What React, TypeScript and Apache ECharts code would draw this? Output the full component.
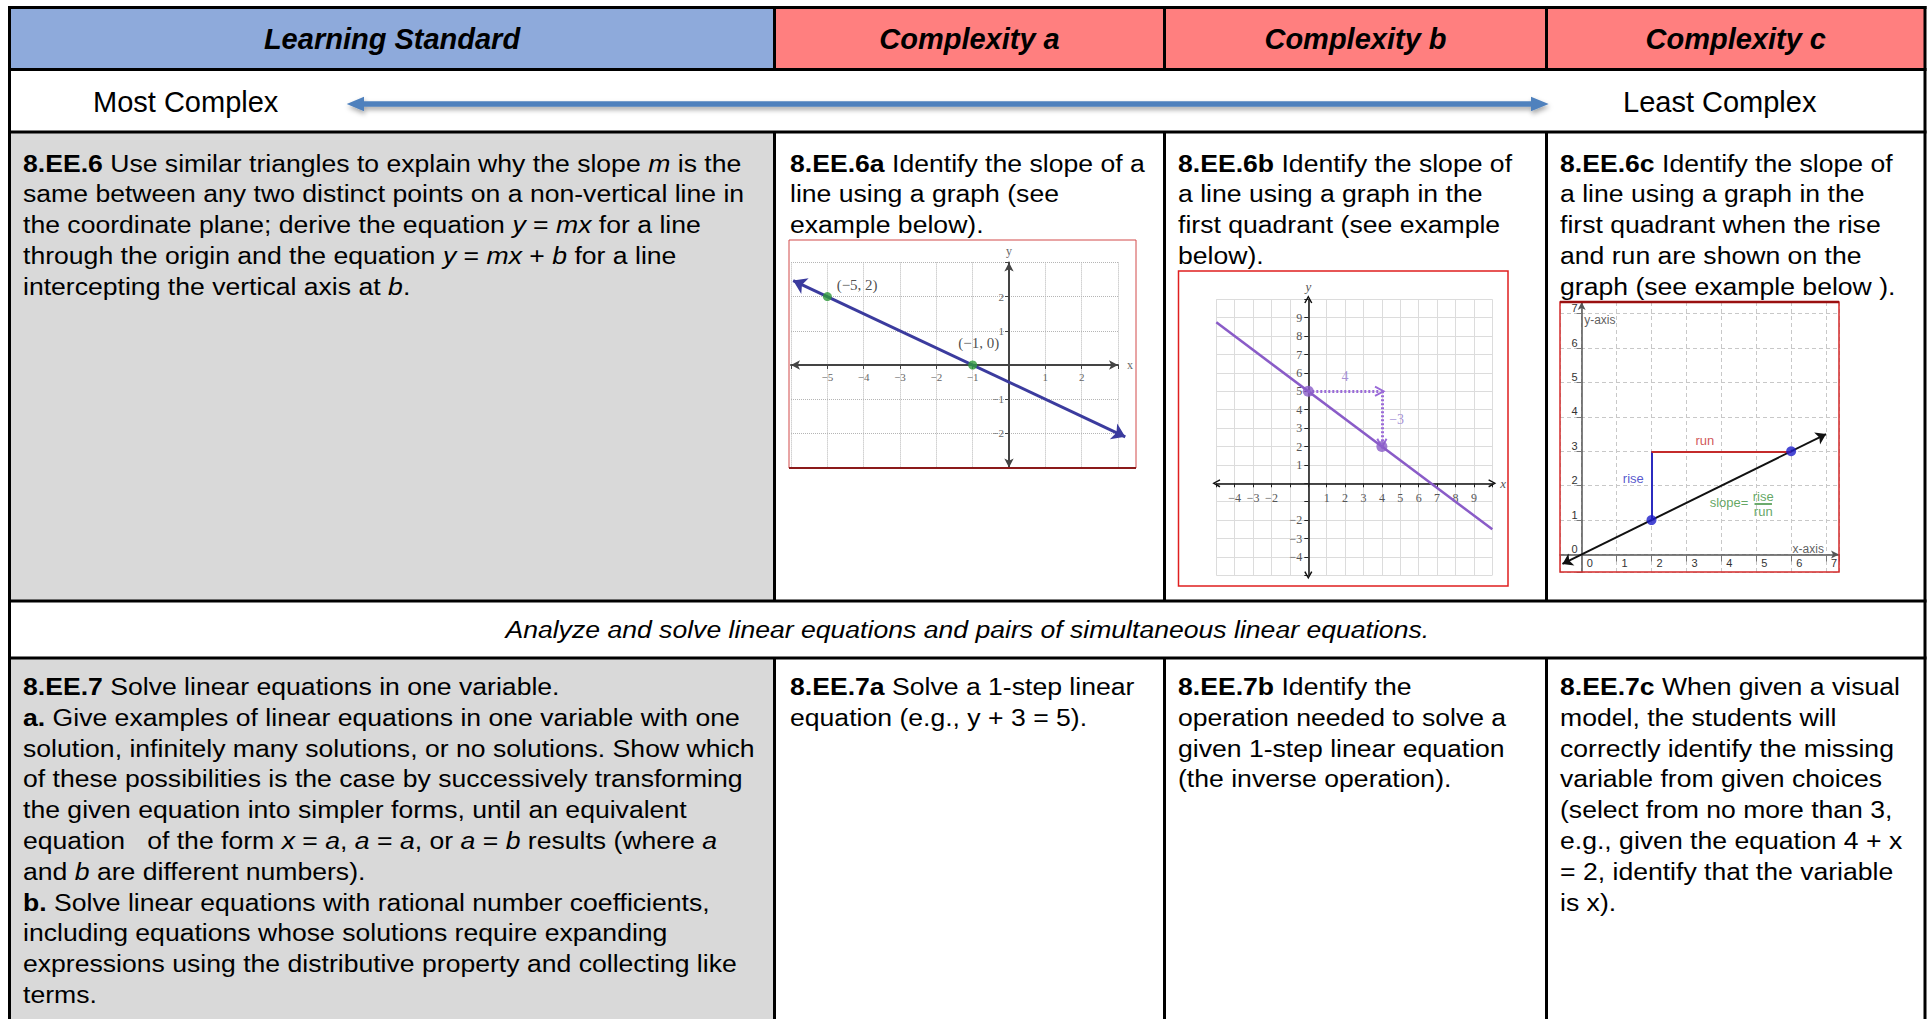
import React, { useEffect, useRef } from "react";
import * as echarts from "echarts";

// ---------------- table content ----------------
const headerLabels = ["Learning Standard", "Complexity a", "Complexity b", "Complexity c"];
const scaleEndLabels = ["Most Complex", "Least Complex"];
const clusterHeading = "Analyze and solve linear equations and pairs of simultaneous linear equations.";

const standard6Lines = [
  "{b|8.EE.6} Use similar triangles to explain why the slope {i|m} is the",
  "same between any two distinct points on a non-vertical line in",
  "the coordinate plane; derive the equation {i|y} = {i|mx} for a line",
  "through the origin and the equation {i|y} = {i|mx} + {i|b} for a line",
  "intercepting the vertical axis at {i|b}.",
];
const complexity6aLines = ["{b|8.EE.6a} Identify the slope of a", "line using a graph (see", "example below)."];
const complexity6bLines = [
  "{b|8.EE.6b} Identify the slope of",
  "a line using a graph in the",
  "first quadrant (see example",
  "below).",
];
const complexity6cLines = [
  "{b|8.EE.6c} Identify the slope of",
  "a line using a graph in the",
  "first quadrant when the rise",
  "and run are shown on the",
  "graph (see example below ).",
];
const standard7Lines = [
  "{b|8.EE.7} Solve linear equations in one variable.",
  "{b|a.} Give examples of linear equations in one variable with one",
  "solution, infinitely many solutions, or no solutions. Show which",
  "of these possibilities is the case by successively transforming",
  "the given equation into simpler forms, until an equivalent",
  "equation   of the form {i|x} = {i|a}, {i|a} = {i|a}, or {i|a} = {i|b} results (where {i|a}",
  "and {i|b} are different numbers).",
  "{b|b.} Solve linear equations with rational number coefficients,",
  "including equations whose solutions require expanding",
  "expressions using the distributive property and collecting like",
  "terms.",
];
const complexity7aLines = ["{b|8.EE.7a} Solve a 1-step linear", "equation (e.g., y + 3 = 5)."];
const complexity7bLines = [
  "{b|8.EE.7b} Identify the",
  "operation needed to solve a",
  "given 1-step linear equation",
  "(the inverse operation).",
];
const complexity7cLines = [
  "{b|8.EE.7c} When given a visual",
  "model, the students will",
  "correctly identify the missing",
  "variable from given choices",
  "(select from no more than 3,",
  "e.g., given the equation 4 + x",
  "= 2, identify that the variable",
  "is x).",
];

// ---------------- graph a data ----------------
const aXRange = [-6, 3];
const aYRange = [-3, 3];
const aLineCoords = [[-5.94, 2.47], [3.2, -2.1]];
const aPoints = [[-5, 2], [-1, 0]];
const aPointNames = ["(\u22125, 2)", "(\u22121, 0)"];
const aNameAnchors = [[-4.18, 2.34], [-0.83, 0.63]];
const aXTickLabels = [-5, -4, -3, -2, -1, 1, 2];
const aYTickLabels = [-2, -1, 1, 2];

// ---------------- graph b data ----------------
const bRange = [-5, 10];
const bLineCoords = [[-5, 8.75], [10, -2.5]];
const bPoints = [[0, 5], [4, 2]];
const bRunArrow = [[0, 5], [3.9, 5]];
const bRiseArrow = [[4, 5], [4, 2.15]];
const bStepNames = ["4", "\u22123"];
const bStepAnchors = [[2, 5.8], [4.8, 3.45]];
const bTickLabels = [-4, -3, -2, 1, 2, 3, 4, 5, 6, 7, 8, 9];

// ---------------- graph c data ----------------
const cXRange = [-0.62, 7.37];
const cYRange = [-0.51, 7.34];
const cLineCoords = [[-0.55, -0.275], [7, 3.5]];
const cPoints = [[2, 1], [6, 3]];
const cRise = [[2, 1], [2, 3]];
const cRun = [[2, 3], [6, 3]];
const cFractionBar = [[4.95, 1.48], [5.45, 1.48]];
const cNames = ["rise", "run", "slope=", "rise", "run", "y-axis", "x-axis"];
const cNameAnchors = [[1.48, 2.21], [3.53, 3.3], [4.22, 1.5], [5.2, 1.69], [5.2, 1.24], [0.52, 6.81], [6.49, 0.15]];
const cNameColors = ["#2b2bbf", "#c42b2b", "#3b8f3b", "#3b8f3b", "#3b8f3b", "#333333", "#333333"];
const cTickLabels = [0, 1, 2, 3, 4, 5, 6, 7];

// ---------------- layout ----------------
const FONT = "'Liberation Sans', Arial, sans-serif";
const SERIF = "'Liberation Serif', 'Times New Roman', serif";
const colX = [9.5, 774.5, 1164.5, 1546.5, 1925];
const rowY = [7.5, 69.5, 132, 601, 658];
const textX = [23, 790, 1178, 1560];
const BODY_SIZE = 26.6;
const BODY_LH = 33.1;
const SQUASH = 0.93;

const gridA = { left: 791, top: 262.4, width: 327, height: 205.2 };
const gridB = { left: 1216.3, top: 299.3, width: 276, height: 276 };
const gridC = { left: 1560, top: 302, width: 279, height: 270 };

// offset (px) that moves an axis from the grid edge onto the zero line of the other axis
const zeroOffset = (range: number[], size: number) => -((0 - range[0]) / (range[1] - range[0])) * size;

const CHEVRON = "path://M0,9 L5,0 L10,9 L8.4,9.8 L5,3.4 L1.6,9.8 Z";

const fmt = (list: number[]) => (v: number) => {
  const r = Math.round(v * 1000) / 1000;
  if (list.indexOf(r) < 0) return "";
  return r < 0 ? "\u2212" + Math.abs(r) : String(r);
};

const bodyRich = {
  b: { fontWeight: "bold", fontSize: BODY_SIZE, fontFamily: FONT, lineHeight: BODY_LH, fill: "#000" },
  i: { fontStyle: "italic", fontSize: BODY_SIZE, fontFamily: FONT, lineHeight: BODY_LH, fill: "#000" },
};

function bodyText(x: number, y: number, lines: string[]) {
  return {
    type: "text",
    x,
    y,
    scaleY: SQUASH,
    z: 6,
    silent: true,
    style: {
      text: lines.join("\n"),
      fontSize: BODY_SIZE,
      fontFamily: FONT,
      fill: "#000",
      lineHeight: BODY_LH,
      align: "left",
      verticalAlign: "top",
      rich: bodyRich,
    },
  };
}

function line(x1: number, y1: number, x2: number, y2: number, w = 3, color = "#000", z = 5) {
  return { type: "line", z, silent: true, shape: { x1, y1, x2, y2 }, style: { stroke: color, lineWidth: w } };
}

function rect(x: number, y: number, w: number, h: number, fill: string, z = 0) {
  return { type: "rect", z, silent: true, shape: { x, y, width: w, height: h }, style: { fill } };
}

function buildGraphic() {
  const g: any[] = [];
  const top = rowY[0];
  const bottom = 1030;
  g.push(rect(colX[0], top, colX[1] - colX[0], rowY[1] - top, "#8EAADB"));
  g.push(rect(colX[1], top, colX[4] - colX[1], rowY[1] - top, "#FF7F7F"));
  g.push(rect(colX[0], rowY[2], colX[1] - colX[0], rowY[3] - rowY[2], "#D9D9D9"));
  g.push(rect(colX[0], rowY[4], colX[1] - colX[0], bottom - rowY[4], "#D9D9D9"));
  rowY.forEach((y) => g.push(line(colX[0] - 1.5, y, colX[4] + 1.5, y)));
  g.push(line(colX[0], top - 1.5, colX[0], bottom));
  g.push(line(colX[4], top - 1.5, colX[4], bottom));
  for (let c = 1; c <= 3; c++) {
    g.push(line(colX[c], rowY[0], colX[c], rowY[1]));
    g.push(line(colX[c], rowY[2], colX[c], rowY[3]));
    g.push(line(colX[c], rowY[4], colX[c], bottom));
  }
  headerLabels.forEach((t, i) => {
    g.push({
      type: "text",
      z: 6,
      silent: true,
      x: (colX[i] + colX[i + 1]) / 2,
      y: 38.5,
      style: {
        text: t,
        fontSize: 29,
        fontFamily: FONT,
        fontWeight: "bold",
        fontStyle: "italic",
        fill: "#000",
        align: "center",
        verticalAlign: "middle",
      },
    });
  });
  [93, 1623].forEach((x, i) => {
    g.push({
      type: "text",
      z: 6,
      silent: true,
      x,
      y: 102,
      style: { text: scaleEndLabels[i], fontSize: 29, fontFamily: FONT, fill: "#000", align: "left", verticalAlign: "middle" },
    });
  });
  const yc = 104;
  const lx = 346.7, lb = 364, rb = 1531, rx = 1548.7;
  g.push({
    type: "polygon",
    z: 4,
    silent: true,
    shape: {
      points: [
        [lx, yc], [lb, yc - 7.2], [lb, yc - 2.7], [rb, yc - 2.7], [rb, yc - 7.2],
        [rx, yc], [rb, yc + 7.2], [rb, yc + 2.7], [lb, yc + 2.7], [lb, yc + 7.2],
      ],
    },
    style: { fill: "#4F81BD", shadowBlur: 5, shadowColor: "rgba(0,0,0,0.35)", shadowOffsetX: 1, shadowOffsetY: 3 },
  });
  g.push({
    type: "text",
    z: 6,
    silent: true,
    x: (colX[0] + colX[4]) / 2,
    y: 629.5,
    scaleY: SQUASH,
    style: {
      text: clusterHeading,
      fontSize: BODY_SIZE,
      fontFamily: FONT,
      fontStyle: "italic",
      fill: "#000",
      align: "center",
      verticalAlign: "middle",
    },
  });
  const y6 = 147.6, y7 = 671.1;
  g.push(bodyText(textX[0], y6, standard6Lines));
  g.push(bodyText(textX[1], y6, complexity6aLines));
  g.push(bodyText(textX[2], y6, complexity6bLines));
  g.push(bodyText(textX[3], y6, complexity6cLines));
  g.push(bodyText(textX[0], y7, standard7Lines));
  g.push(bodyText(textX[1], y7, complexity7aLines));
  g.push(bodyText(textX[2], y7, complexity7bLines));
  g.push(bodyText(textX[3], y7, complexity7cLines));
  const frame = (x: number, y: number, w: number, h: number, color: string, lw: number) => ({
    type: "rect",
    z: 20,
    silent: true,
    shape: { x, y, width: w, height: h },
    style: { fill: "none", stroke: color, lineWidth: lw },
  });
  g.push(frame(789, 240, 347, 228, "#d24a4a", 1));
  g.push(line(789, 468, 1136, 468, 2.2, "#8b1a1a", 21));
  g.push(frame(1178.5, 271, 329.5, 315, "#e01f1f", 1.5));
  g.push(frame(1560, 302, 279, 270, "#d42a2a", 1.5));
  g.push(line(1560, 302, 1839, 302, 2.5, "#9a1010", 21));
  return g;
}

function buildOption() {
  const axisLabelA = { fontFamily: SERIF, fontSize: 11, color: "#666" };
  const axisLabelB = { fontFamily: SERIF, fontSize: 12, color: "#555" };
  const axisLabelC = { fontFamily: FONT, fontSize: 11, color: "#333" };
  return {
    animation: false,
    backgroundColor: "#ffffff",
    graphic: { elements: buildGraphic() },
    grid: [gridA, gridB, gridC],
    xAxis: [
      {
        type: "value",
        gridIndex: 0,
        position: "bottom",
        offset: zeroOffset(aYRange, gridA.height),
        min: aXRange[0],
        max: aXRange[1],
        interval: 1,
        name: "x",
        nameLocation: "end",
        nameGap: 9,
        nameTextStyle: { fontFamily: SERIF, fontSize: 12, color: "#666" },
        axisLine: { onZero: false, symbol: ["arrow", "arrow"], symbolSize: [7, 9], lineStyle: { color: "#444", width: 2 } },
        axisTick: { show: true, length: 4, lineStyle: { color: "#444" } },
        axisLabel: { ...axisLabelA, margin: 6, formatter: fmt(aXTickLabels) },
        splitLine: { show: true, lineStyle: { type: "dotted", color: "#b5b5b5" } },
      },
      {
        type: "value",
        gridIndex: 1,
        position: "bottom",
        offset: zeroOffset(bRange, gridB.height),
        min: bRange[0],
        max: bRange[1],
        interval: 1,
        name: "x",
        nameLocation: "end",
        nameGap: 8,
        nameTextStyle: { fontFamily: SERIF, fontSize: 13, fontStyle: "italic", color: "#555" },
        axisLine: { onZero: false, symbol: [CHEVRON, CHEVRON], symbolSize: [10, 8], lineStyle: { color: "#111", width: 1.5 } },
        axisTick: { show: true, length: 4, lineStyle: { color: "#222" } },
        axisLabel: { ...axisLabelB, margin: 9, formatter: fmt(bTickLabels) },
        splitLine: { show: true, lineStyle: { color: "#dcdcdc", width: 1 } },
      },
      {
        type: "value",
        gridIndex: 2,
        position: "bottom",
        offset: zeroOffset(cYRange, gridC.height),
        min: cXRange[0],
        max: cXRange[1],
        minInterval: 1,
        maxInterval: 1,
        splitNumber: 8,
        axisLine: { onZero: false, symbol: ["none", "arrow"], symbolSize: [6, 8], lineStyle: { color: "#555", width: 1.5 } },
        axisTick: { show: true, length: 7, lineStyle: { color: "#777" } },
        axisLabel: { ...axisLabelC, margin: 3, align: "left", padding: [0, 0, 0, 5], formatter: fmt(cTickLabels) },
        splitLine: { show: true, lineStyle: { type: [4, 3], color: "#c8c8c8" } },
      },
    ],
    yAxis: [
      {
        type: "value",
        gridIndex: 0,
        position: "left",
        offset: zeroOffset(aXRange, gridA.width),
        min: aYRange[0],
        max: aYRange[1],
        interval: 1,
        name: "y",
        nameLocation: "end",
        nameGap: 5,
        nameTextStyle: { fontFamily: SERIF, fontSize: 12, color: "#666" },
        axisLine: { onZero: false, symbol: ["arrow", "arrow"], symbolSize: [7, 9], lineStyle: { color: "#444", width: 2 } },
        axisTick: { show: true, length: 4, lineStyle: { color: "#444" } },
        axisLabel: { ...axisLabelA, margin: 5, formatter: fmt(aYTickLabels) },
        splitLine: { show: true, lineStyle: { type: "dotted", color: "#b5b5b5" } },
      },
      {
        type: "value",
        gridIndex: 1,
        position: "left",
        offset: zeroOffset(bRange, gridB.width),
        min: bRange[0],
        max: bRange[1],
        interval: 1,
        name: "y",
        nameLocation: "end",
        nameGap: 6,
        nameTextStyle: { fontFamily: SERIF, fontSize: 13, fontStyle: "italic", color: "#555" },
        axisLine: { onZero: false, symbol: [CHEVRON, CHEVRON], symbolSize: [10, 8], lineStyle: { color: "#111", width: 1.5 } },
        axisTick: { show: true, length: 4, lineStyle: { color: "#222" } },
        axisLabel: { ...axisLabelB, margin: 6, formatter: fmt(bTickLabels) },
        splitLine: { show: true, lineStyle: { color: "#dcdcdc", width: 1 } },
      },
      {
        type: "value",
        gridIndex: 2,
        position: "left",
        offset: zeroOffset(cXRange, gridC.width),
        min: cYRange[0],
        max: cYRange[1],
        minInterval: 1,
        maxInterval: 1,
        splitNumber: 8,
        axisLine: { onZero: false, symbol: ["none", "arrow"], symbolSize: [6, 8], lineStyle: { color: "#555", width: 1.5 } },
        axisTick: { show: true, length: 5, lineStyle: { color: "#777" } },
        axisLabel: { ...axisLabelC, margin: 4, verticalAlign: "bottom", formatter: fmt(cTickLabels) },
        splitLine: { show: true, lineStyle: { type: [4, 3], color: "#c8c8c8" } },
      },
    ],
    series: [
      // ----- graph a -----
      {
        type: "lines",
        coordinateSystem: "cartesian2d",
        xAxisIndex: 0,
        yAxisIndex: 0,
        clip: false,
        silent: true,
        symbol: ["arrow", "arrow"],
        symbolSize: 13,
        lineStyle: { color: "#3b3b9e", width: 3, opacity: 1 },
        data: [{ coords: aLineCoords }],
        z: 3,
      },
      {
        type: "scatter",
        xAxisIndex: 0,
        yAxisIndex: 0,
        silent: true,
        symbolSize: 9,
        itemStyle: { color: "#2f9a3c" },
        data: aPoints,
        z: 4,
      },
      {
        type: "scatter",
        xAxisIndex: 0,
        yAxisIndex: 0,
        silent: true,
        symbolSize: 1,
        itemStyle: { color: "rgba(0,0,0,0)" },
        label: { show: true, position: "inside", formatter: "{b}", fontFamily: SERIF, fontSize: 15, color: "#222" },
        data: aNameAnchors.map((c, i) => ({ value: c, name: aPointNames[i] })),
        z: 5,
      },
      // ----- graph b -----
      {
        type: "lines",
        coordinateSystem: "cartesian2d",
        xAxisIndex: 1,
        yAxisIndex: 1,
        silent: true,
        symbol: ["none", "none"],
        lineStyle: { color: "#8a5cc8", width: 2.5, opacity: 1 },
        data: [{ coords: bLineCoords }],
        z: 3,
      },
      {
        type: "lines",
        coordinateSystem: "cartesian2d",
        xAxisIndex: 1,
        yAxisIndex: 1,
        silent: true,
        symbol: ["none", CHEVRON],
        symbolSize: 11,
        lineStyle: { color: "#9a6ad8", width: 3, type: [2, 2], opacity: 1 },
        data: [{ coords: bRunArrow }, { coords: bRiseArrow }],
        z: 3,
      },
      {
        type: "scatter",
        xAxisIndex: 1,
        yAxisIndex: 1,
        silent: true,
        symbolSize: 11,
        itemStyle: { color: "#8a5cc8" },
        data: bPoints,
        z: 4,
      },
      {
        type: "scatter",
        xAxisIndex: 1,
        yAxisIndex: 1,
        silent: true,
        symbolSize: 1,
        itemStyle: { color: "rgba(0,0,0,0)" },
        label: { show: true, position: "inside", formatter: "{b}", fontFamily: SERIF, fontSize: 14, color: "#9077cc" },
        data: bStepAnchors.map((c, i) => ({ value: c, name: bStepNames[i] })),
        z: 5,
      },
      // ----- graph c -----
      {
        type: "lines",
        coordinateSystem: "cartesian2d",
        xAxisIndex: 2,
        yAxisIndex: 2,
        silent: true,
        clip: false,
        symbol: ["arrow", "arrow"],
        symbolSize: 10,
        lineStyle: { color: "#111", width: 2, opacity: 1 },
        data: [{ coords: cLineCoords }],
        z: 3,
      },
      {
        type: "lines",
        coordinateSystem: "cartesian2d",
        xAxisIndex: 2,
        yAxisIndex: 2,
        silent: true,
        symbol: ["none", "none"],
        lineStyle: { color: "#2b2bbf", width: 2, opacity: 1 },
        data: [{ coords: cRise }],
        z: 3,
      },
      {
        type: "lines",
        coordinateSystem: "cartesian2d",
        xAxisIndex: 2,
        yAxisIndex: 2,
        silent: true,
        symbol: ["none", "none"],
        lineStyle: { color: "#c42b2b", width: 2, opacity: 1 },
        data: [{ coords: cRun }],
        z: 3,
      },
      {
        type: "lines",
        coordinateSystem: "cartesian2d",
        xAxisIndex: 2,
        yAxisIndex: 2,
        silent: true,
        symbol: ["none", "none"],
        lineStyle: { color: "#3b8f3b", width: 1.5, opacity: 1 },
        data: [{ coords: cFractionBar }],
        z: 3,
      },
      {
        type: "scatter",
        xAxisIndex: 2,
        yAxisIndex: 2,
        silent: true,
        symbolSize: 10,
        itemStyle: { color: "#1c1cc8" },
        data: cPoints,
        z: 4,
      },
      {
        type: "scatter",
        xAxisIndex: 2,
        yAxisIndex: 2,
        silent: true,
        symbolSize: 1,
        itemStyle: { color: "rgba(0,0,0,0)" },
        label: { show: true, position: "inside", formatter: "{b}", fontFamily: FONT, fontSize: 12 },
        data: cNameAnchors.map((c, i) => ({
          value: c,
          name: cNames[i],
          label: { color: cNameColors[i], fontSize: i < 5 ? 13 : 12 },
        })),
        z: 5,
      },
    ],
  };
}

export default function App() {
  const ref = useRef<HTMLDivElement>(null);
  useEffect(() => {
    if (!ref.current) return;
    const chart = echarts.init(ref.current, undefined, { renderer: "svg" });
    chart.setOption(buildOption() as any);
    return () => chart.dispose();
  }, []);
  return (
    <div
      ref={ref}
      style={{ position: "fixed", left: 0, top: 0, width: 1931, height: 1019, background: "#fff" }}
    />
  );
}
